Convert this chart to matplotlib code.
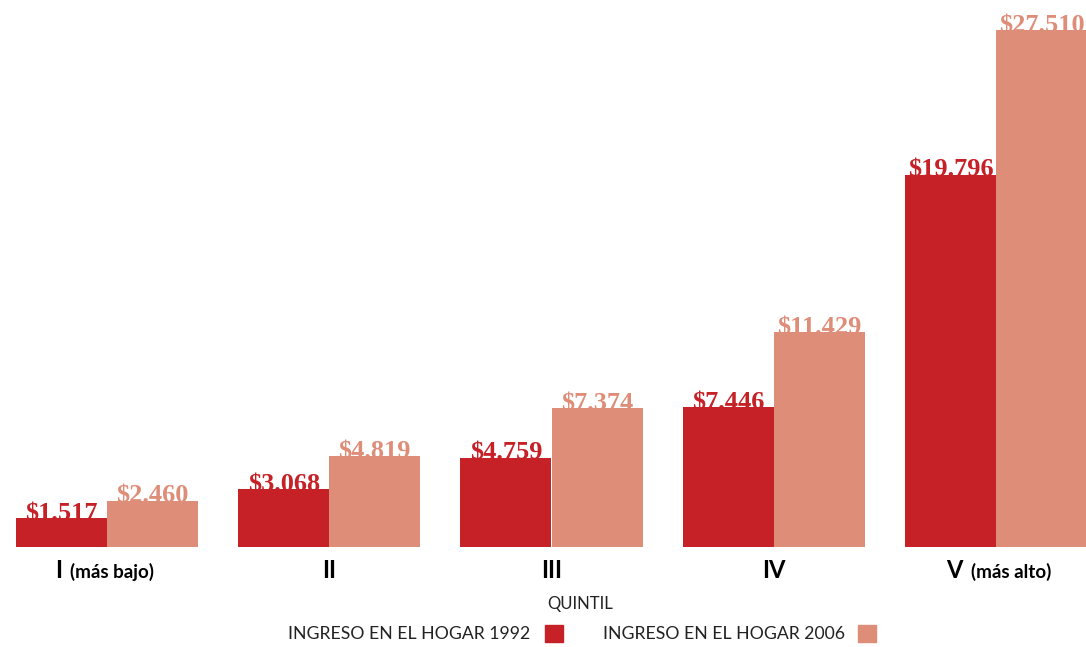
import numpy as np
import matplotlib
matplotlib.use("Agg")
import matplotlib.pyplot as plt
from matplotlib.patches import Rectangle

# ==========================================
# DATA
# ==========================================
quintiles = ["I", "II", "III", "IV", "V"]
quintile_notes = ["(más bajo)", "", "", "", "(más alto)"]
ingreso_1992 = [1517, 3068, 4759, 7446, 19796]
ingreso_2006 = [2460, 4819, 7374, 11429, 27510]
labels_1992 = ["$1.517", "$3.068", "$4.759", "$7.446", "$19.796"]
labels_2006 = ["$2.460", "$4.819", "$7.374", "$11.429", "$27.510"]

red = "#C62127"
salmon = "#DE8D78"

# ==========================================
# PLOT
# ==========================================
W, H = 1086, 647
fig = plt.figure(figsize=(W / 100, H / 100), dpi=100)
ax = fig.add_axes([0, 100 / H, 1, 547 / H])

x = np.arange(len(quintiles))
w = 0.41
ax.bar(x - w / 2, ingreso_1992, width=w, color=red, zorder=3)
ax.bar(x + w / 2, ingreso_2006, width=w, color=salmon, zorder=3)

ax.set_xlim(-107 / 222.25, (W - 107) / 222.25)
ax.set_ylim(0, 27510 * 547 / 517)
ax.axis("off")

# value labels (bars sit slightly over the bottom of the text)
lab_font = dict(family="Liberation Serif", fontweight="bold", fontsize=19)
for i in range(len(quintiles)):
    ax.annotate(labels_1992[i], (x[i] - w / 2, ingreso_1992[i]), xytext=(0, -2),
                textcoords="offset pixels", ha="center", va="baseline", color=red,
                zorder=2, annotation_clip=False, **lab_font)
    ax.annotate(labels_2006[i], (x[i] + w / 2, ingreso_2006[i]), xytext=(0, -2),
                textcoords="offset pixels", ha="center", va="baseline", color=salmon,
                zorder=2, annotation_clip=False, **lab_font)

# category labels
for i in range(len(quintiles)):
    if quintile_notes[i]:
        off = -41 if i == 0 else -29
        ax.annotate(quintiles[i], (x[i], 0), xytext=(off - 4, -24), textcoords="offset pixels",
                    ha="right", va="center", fontsize=17, fontweight="bold", family="Lato")
        ax.annotate(quintile_notes[i], (x[i], 0), xytext=(off + 4, -25), textcoords="offset pixels",
                    ha="left", va="center", fontsize=13.5, fontweight="bold", family="Lato")
    else:
        ax.annotate(quintiles[i], (x[i], 0), xytext=(0, -24), textcoords="offset pixels",
                    ha="center", va="center", fontsize=17, fontweight="bold", family="Lato")

fig.text(580 / W, 1 - 604 / H, "QUINTIL", ha="center", va="center", fontsize=12,
         family="Lato", color="#222222")

# legend
fig.text(530 / W, 1 - 634 / H, "INGRESO EN EL HOGAR 1992", ha="right", va="center",
         fontsize=12.7, family="Lato", color="#222222")
fig.add_artist(Rectangle((545 / W, 1 - 642 / H), 18 / W, 17 / H, color=red,
                         transform=fig.transFigure))
fig.text(845 / W, 1 - 634 / H, "INGRESO EN EL HOGAR 2006", ha="right", va="center",
         fontsize=12.7, family="Lato", color="#222222")
fig.add_artist(Rectangle((858 / W, 1 - 642 / H), 18 / W, 17 / H, color=salmon,
                         transform=fig.transFigure))

fig.savefig("out.png", dpi=100)
